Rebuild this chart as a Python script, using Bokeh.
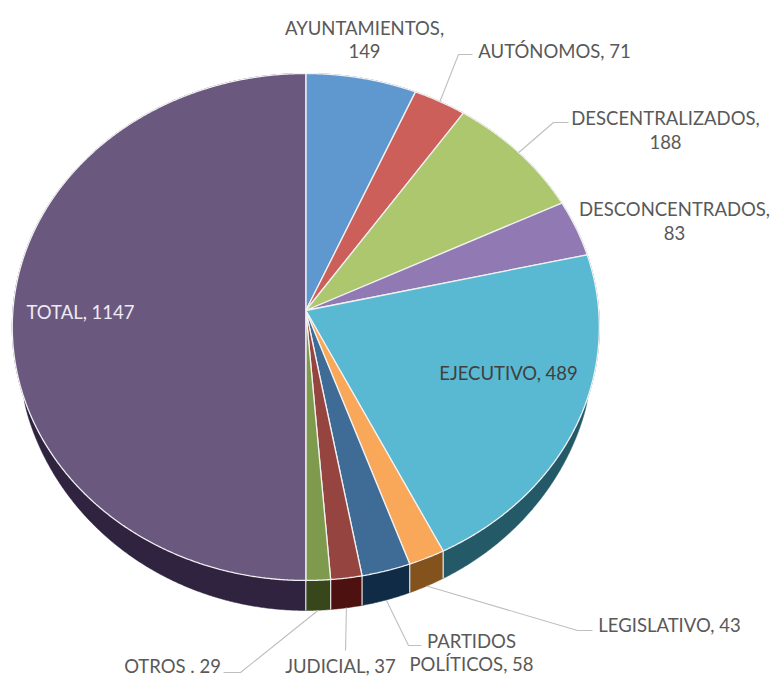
import numpy as np
from bokeh.plotting import figure
from bokeh.models import Range1d, ColumnDataSource
from bokeh.core.properties import value
from bokeh.embed import file_html
from bokeh.resources import INLINE

categories = ["AYUNTAMIENTOS", "AUTÓNOMOS", "DESCENTRALIZADOS", "DESCONCENTRADOS", "EJECUTIVO",
              "LEGISLATIVO", "PARTIDOS POLÍTICOS", "JUDICIAL", "OTROS", "TOTAL"]
values = [149, 71, 188, 83, 489, 43, 58, 37, 29, 1147]
top_colors = ["#5F97CF", "#CD5F5A", "#ADC76E", "#9179B3", "#59B9D3",
              "#F9A85A", "#3F6C97", "#954440", "#7E9A4D", "#6A587F"]
side_colors = ["#2F5480", "#7C2F2C", "#66792F", "#52406F", "#245A67",
               "#84521C", "#0F2B45", "#4D1210", "#37471B", "#2F2340"]

# label lines: text, x, y, colour
label_text = ["AYUNTAMIENTOS,", "149", "AUTÓNOMOS, 71", "DESCENTRALIZADOS,", "188", "DESCONCENTRADOS,", "83",
              "EJECUTIVO, 489", "LEGISLATIVO, 43", "PARTIDOS", "POLÍTICOS, 58", "JUDICIAL, 37", "OTROS . 29",
              "TOTAL, 1147"]
label_x = [364, 364, 554, 665, 665, 674, 674, 508, 669, 471, 471, 340, 172, 80]
label_y = [27, 50, 50, 117, 141, 208, 232, 372, 624, 640, 663, 665, 665, 311]
label_color = ["#595959"] * 7 + ["#404040"] + ["#595959"] * 5 + ["#EFEAF3"]

# leader lines: slice index, is the anchor on the wall bottom, elbow, end
leader_idx = [1, 2, 5, 6, 7, 8]
leader_wall = [False, False, True, True, True, True]
leader_elbow = [(458, 54), (553, 122), (577, 630), (408, 645), (345, 650), (240, 672)]
leader_end = [(472, 54), (568, 122), (592, 630), (421, 645), (345, 650), (223, 672)]

W, H = 772, 677
APEX_X, APEX_Y = 305.3, 310.0
K, A, B = 0.0651, 292.9, 252.4
Y_START, DEPTH = 398.0, 30.0
ELL_CY, ELL_RY = 326.5, 253.5


def rim(theta):
    u, v = np.sin(theta), np.cos(theta)
    d = 1 + K * v
    return APEX_X + A * u / d, APEX_Y - B * v / d


def wall(y):
    s = np.clip((y - ELL_CY) / ELL_RY, -1, 1)
    s0 = (Y_START - ELL_CY) / ELL_RY
    return DEPTH * np.sqrt(np.clip((s - s0) / (1 - s0), 0, 1))


total = sum(values)
edges = np.concatenate([[0], np.cumsum(values)]) / total * 2 * np.pi

p = figure(width=W, height=H, output_backend="svg", toolbar_location=None,
           x_range=Range1d(0, W), y_range=Range1d(H, 0),
           min_border=0, outline_line_color=None, background_fill_color="white",
           border_fill_color="white")
p.xaxis.visible = False
p.yaxis.visible = False
p.grid.visible = False

top_x, top_y, wall_x, wall_y, seam_x, seam_y = [], [], [], [], [], []
for a, b in zip(edges[:-1], edges[1:]):
    th = np.linspace(a, b, max(3, int((b - a) / np.radians(0.25))))
    x, y = rim(th)
    top_x.append([APEX_X] + list(x))
    top_y.append([APEX_Y] + list(y))
    d = wall(y)
    wall_x.append(list(x) + list(x[::-1]))
    wall_y.append(list(y) + list((y + d)[::-1]))
    xe, ye = rim(b)
    de = float(wall(ye))
    if de > 0:
        seam_x.append([xe, xe])
        seam_y.append([ye, ye + de])

p.patches(wall_x, wall_y, fill_color=side_colors, line_color=side_colors, line_width=0.5)
p.multi_line(seam_x, seam_y, line_color="#E9E9E9", line_width=1.2)
p.patches(top_x, top_y, fill_color=top_colors, line_color="#F1F1F1", line_width=1.3)

lx, ly = [], []
for i, on_wall, elbow, end in zip(leader_idx, leader_wall, leader_elbow, leader_end):
    mid = (edges[i] + edges[i + 1]) / 2
    x0, y0 = rim(mid)
    if on_wall:
        y0 = y0 + float(wall(y0))
    lx.append([float(x0), elbow[0], end[0]])
    ly.append([float(y0), elbow[1], end[1]])
p.multi_line(lx, ly, line_color="#BFBFBF", line_width=1.1)

src = ColumnDataSource(dict(t=label_text, x=label_x, y=label_y, c=label_color))
p.text("x", "y", text="t", source=src, text_color="c", text_align="center", text_baseline="middle",
       text_font=value("Lato"), text_font_size="18.5px")

open("out.html", "w").write(file_html(p, INLINE))
